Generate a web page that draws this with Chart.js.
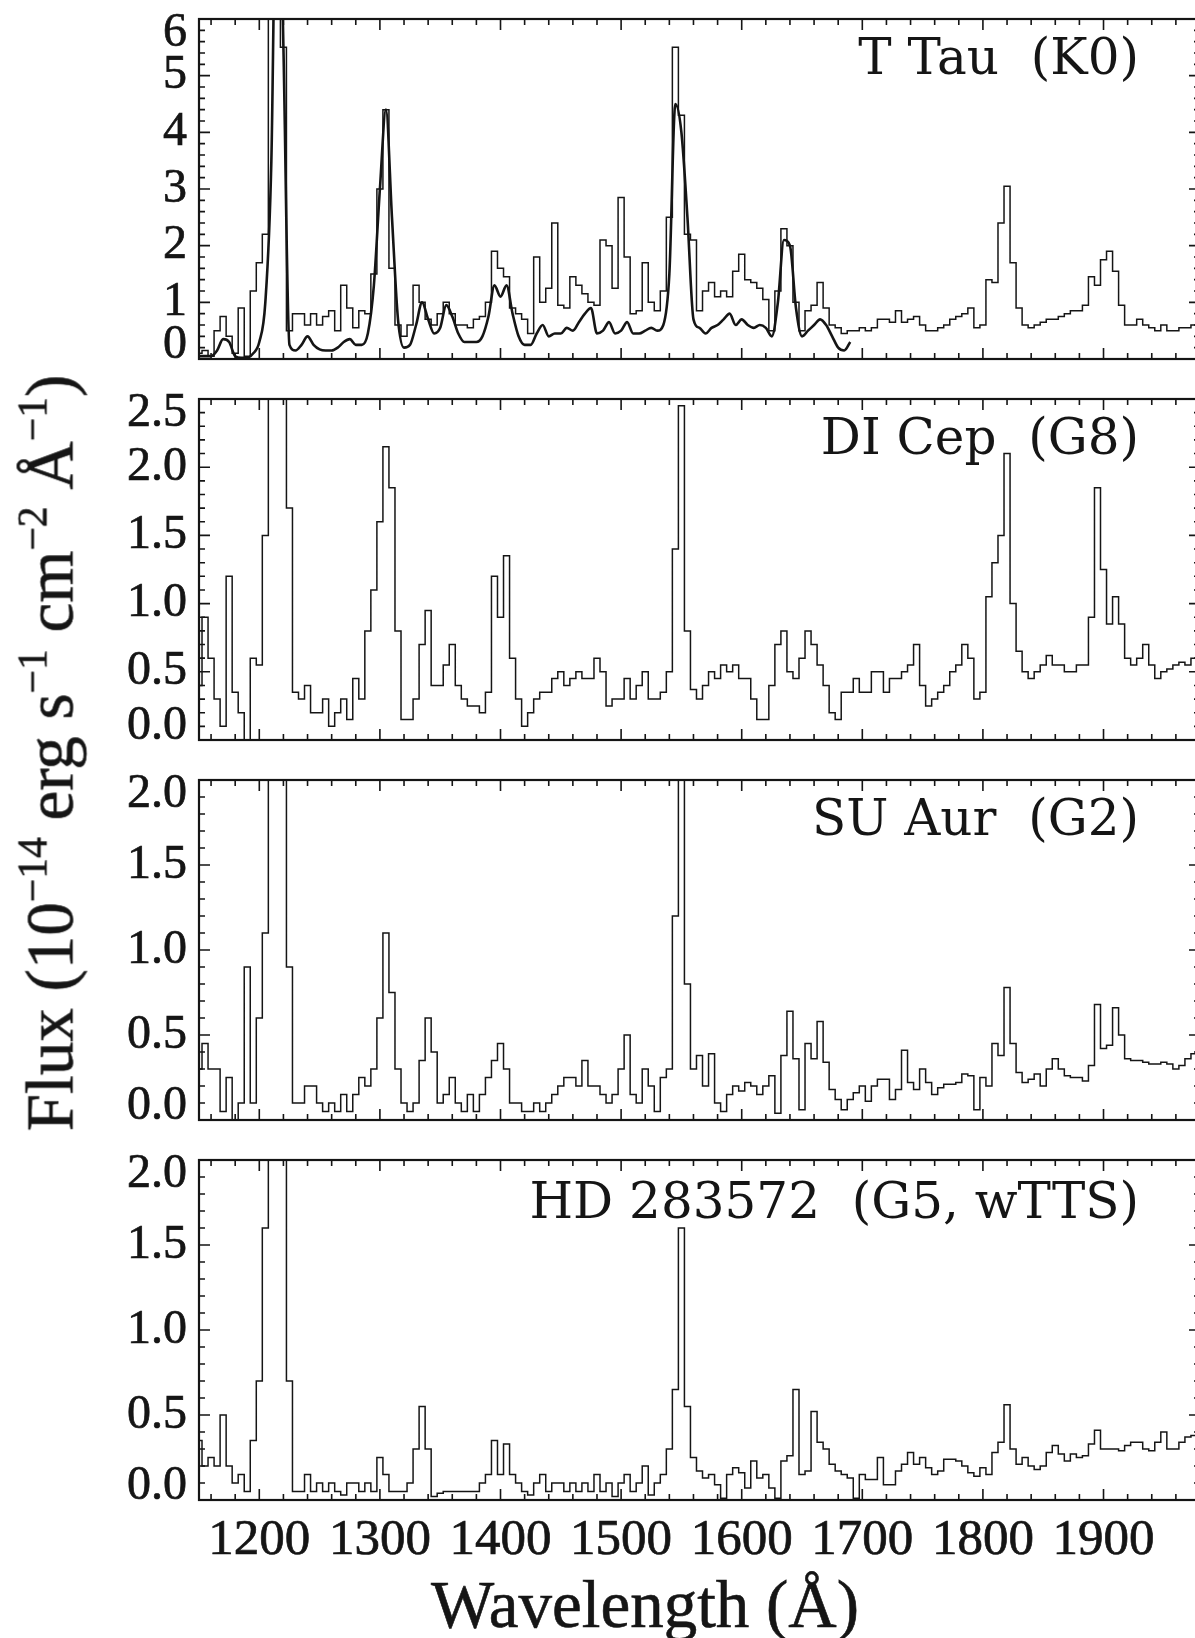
<!DOCTYPE html>
<html>
<head>
<meta charset="utf-8">
<script src="https://cdn.jsdelivr.net/npm/chart.js@4.4.1/dist/chart.umd.min.js"></script>
<style>
  html, body { margin: 0; padding: 0; background: #fff; overflow: hidden; }
  body { width: 1195px; height: 1638px; position: relative; }
  canvas { position: absolute; left: 0; }
  .lbl { position: absolute; font-family: "DejaVu Serif", serif; font-size: 50px; line-height: 1;
         color: #151515; white-space: pre; transform: translateX(-100%); }
  .ttl { position: absolute; font-family: "Liberation Serif", serif; font-size: 67px; line-height: 1;
         color: #151515; white-space: nowrap; -webkit-text-stroke: 0.6px #151515; }
  .ttl sup { font-size: 0.62em; line-height: 0; vertical-align: 0.62em; }
</style>
</head>
<body>
<canvas id="p1"></canvas>
<canvas id="p2"></canvas>
<canvas id="p3"></canvas>
<canvas id="p4"></canvas>

<div class="lbl" style="left:1139px; top:32px;">T Tau  (K0)</div>
<div class="lbl" style="left:1139px; top:412px;">DI Cep  (G8)</div>
<div class="lbl" style="left:1139px; top:793px;">SU Aur  (G2)</div>
<div class="lbl" style="left:1139px; top:1176px;">HD 283572  (G5, wTTS)</div>

<div class="ttl" style="left:645px; top:1571px; transform:translateX(-50%);">Wavelength (Å)</div>
<div class="ttl" style="left:50px; top:753px; transform:translate(-50%,-50%) rotate(-90deg);">Flux (10<sup>−14</sup> erg s<sup>−1</sup> cm<sup>−2</sup> Å<sup>−1</sup>)</div>

<script>
// wavelength grid (Angstrom), 5 A bins
const wave = [
  1150, 1155, 1160, 1165, 1170, 1175, 1180, 1185, 1190, 1195,
  1200, 1205, 1210, 1215, 1220, 1225, 1230, 1235, 1240, 1245,
  1250, 1255, 1260, 1265, 1270, 1275, 1280, 1285, 1290, 1295,
  1300, 1305, 1310, 1315, 1320, 1325, 1330, 1335, 1340, 1345,
  1350, 1355, 1360, 1365, 1370, 1375, 1380, 1385, 1390, 1395,
  1400, 1405, 1410, 1415, 1420, 1425, 1430, 1435, 1440, 1445,
  1450, 1455, 1460, 1465, 1470, 1475, 1480, 1485, 1490, 1495,
  1500, 1505, 1510, 1515, 1520, 1525, 1530, 1535, 1540, 1545,
  1550, 1555, 1560, 1565, 1570, 1575, 1580, 1585, 1590, 1595,
  1600, 1605, 1610, 1615, 1620, 1625, 1630, 1635, 1640, 1645,
  1650, 1655, 1660, 1665, 1670, 1675, 1680, 1685, 1690, 1695,
  1700, 1705, 1710, 1715, 1720, 1725, 1730, 1735, 1740, 1745,
  1750, 1755, 1760, 1765, 1770, 1775, 1780, 1785, 1790, 1795,
  1800, 1805, 1810, 1815, 1820, 1825, 1830, 1835, 1840, 1845,
  1850, 1855, 1860, 1865, 1870, 1875, 1880, 1885, 1890, 1895,
  1900, 1905, 1910, 1915, 1920, 1925, 1930, 1935, 1940, 1945,
  1950, 1955, 1960, 1965, 1970, 1975, 1980
];

const tTauFlux = [
  0.1, 0.15, 0.05, 0.5, 0.75, 0.4, 0.1, 0.9, 0.05, 1.2,
  1.7, 2.2, 7, 8, 5.5, 0.5, 0.8, 0.8, 0.6, 0.8,
  0.6, 0.75, 0.85, 0.5, 1.3, 0.9, 0.55, 0.85, 0.8, 1.5,
  3.0, 4.4, 1.6, 0.6, 0.4, 0.6, 1.3, 1.0, 0.7, 0.6,
  0.8, 1.0, 0.8, 0.6, 0.6, 0.55, 0.7, 0.75, 1.0, 1.9,
  1.6, 1.45, 0.9, 0.8, 0.7, 0.45, 1.8, 1.0, 1.25, 2.4,
  0.95, 0.9, 1.45, 1.3, 1.15, 1.0, 0.95, 2.1, 2.0, 1.25,
  2.85, 1.8, 0.8, 0.85, 1.7, 1.0, 0.85, 1.2, 2.5, 5.5,
  4.3, 2.2, 2.1, 0.85, 1.2, 1.35, 1.1, 1.2, 1.1, 1.55,
  1.85, 1.4, 1.35, 1.25, 1.05, 0.5, 1.2, 2.3, 2.0, 1.0,
  0.5, 0.85, 0.95, 1.35, 0.9, 0.6, 0.55, 0.45, 0.5, 0.5,
  0.55, 0.5, 0.55, 0.7, 0.7, 0.65, 0.85, 0.65, 0.7, 0.75,
  0.6, 0.5, 0.5, 0.55, 0.6, 0.7, 0.75, 0.8, 0.9, 0.55,
  0.6, 1.4, 1.35, 2.4, 3.05, 1.7, 0.9, 0.6, 0.55, 0.6,
  0.65, 0.7, 0.7, 0.75, 0.8, 0.85, 0.85, 0.95, 1.45, 1.3,
  1.75, 1.9, 1.55, 0.95, 0.6, 0.6, 0.7, 0.6, 0.55, 0.5,
  0.6, 0.5, 0.5, 0.55, 0.55, 0.6, 0.6
];

// smooth model curve drawn over T Tau, 1150-1690 A on the same grid
const tTauModel = [
  0.05, 0.05, 0.05, 0.15, 0.35, 0.3, 0.05, 0.02, 0.02, 0.1,
  0.3, 1.0, 3.5, 10, 5.5, 0.25, 0.15, 0.25, 0.4, 0.25,
  0.17, 0.15, 0.15, 0.2, 0.3, 0.35, 0.25, 0.25, 0.45, 1.3,
  3.0, 4.4, 2.5, 0.7, 0.2, 0.25, 0.6, 1.0, 0.7, 0.45,
  0.55, 0.95, 0.75, 0.45, 0.3, 0.3, 0.3, 0.4, 0.75, 1.3,
  1.1, 1.3, 0.8, 0.4, 0.25, 0.25, 0.45, 0.6, 0.4, 0.45,
  0.45, 0.55, 0.5, 0.65, 0.8, 0.9, 0.45, 0.5, 0.65, 0.45,
  0.5, 0.65, 0.45, 0.45, 0.5, 0.55, 0.5, 0.6, 1.5, 4.5,
  4.0, 2.5, 0.7, 0.55, 0.45, 0.55, 0.6, 0.7, 0.8, 0.6,
  0.7, 0.6, 0.55, 0.6, 0.55, 0.4, 1.0, 2.1, 2.0, 0.9,
  0.4, 0.5, 0.6, 0.7, 0.6, 0.4, 0.2, 0.15, 0.3
];

const diCepFlux = [
  0.4, 0.9, 0.6, 0.3, 0.1, 1.2, 0.35, 0.2, 0.0, 0.6,
  0.55, 1.5, 3, 3, 3, 1.7, 0.35, 0.3, 0.4, 0.2,
  0.2, 0.3, 0.1, 0.2, 0.3, 0.15, 0.45, 0.3, 0.8, 1.1,
  1.6, 2.15, 1.85, 0.8, 0.15, 0.15, 0.3, 0.7, 0.95, 0.4,
  0.4, 0.55, 0.7, 0.4, 0.3, 0.25, 0.25, 0.2, 0.35, 1.2,
  0.9, 1.35, 0.6, 0.3, 0.1, 0.2, 0.3, 0.35, 0.35, 0.45,
  0.5, 0.4, 0.45, 0.5, 0.45, 0.45, 0.6, 0.5, 0.25, 0.3,
  0.3, 0.45, 0.3, 0.4, 0.5, 0.3, 0.3, 0.35, 0.5, 1.4,
  2.45, 0.8, 0.37, 0.3, 0.4, 0.5, 0.45, 0.55, 0.5, 0.55,
  0.45, 0.45, 0.3, 0.15, 0.15, 0.4, 0.7, 0.8, 0.5, 0.45,
  0.6, 0.8, 0.7, 0.55, 0.4, 0.2, 0.15, 0.35, 0.35, 0.45,
  0.35, 0.35, 0.5, 0.5, 0.35, 0.45, 0.45, 0.5, 0.55, 0.7,
  0.4, 0.25, 0.3, 0.35, 0.4, 0.5, 0.55, 0.7, 0.6, 0.3,
  0.35, 1.05, 1.3, 1.5, 2.1, 1.0, 0.65, 0.5, 0.45, 0.5,
  0.55, 0.62, 0.55, 0.55, 0.5, 0.5, 0.55, 0.55, 0.9, 1.85,
  1.25, 0.85, 1.05, 0.85, 0.6, 0.55, 0.6, 0.7, 0.55, 0.45,
  0.5, 0.52, 0.55, 0.57, 0.55, 0.6, 0.6
];

const suAurFlux = [
  0.3, 0.45, 0.3, 0.3, 0.05, 0.25, 0.0, 0.1, 0.9, 0.1,
  0.6, 1.1, 2.2, 2.2, 2.2, 0.9, 0.1, 0.1, 0.2, 0.2,
  0.1, 0.05, 0.1, 0.05, 0.15, 0.05, 0.15, 0.25, 0.2, 0.3,
  0.6, 1.1, 0.75, 0.3, 0.1, 0.05, 0.1, 0.35, 0.6, 0.4,
  0.1, 0.15, 0.25, 0.1, 0.05, 0.15, 0.05, 0.15, 0.25, 0.35,
  0.45, 0.3, 0.1, 0.1, 0.05, 0.05, 0.1, 0.05, 0.1, 0.15,
  0.2, 0.25, 0.25, 0.2, 0.35, 0.2, 0.2, 0.15, 0.1, 0.15,
  0.3, 0.5, 0.15, 0.1, 0.3, 0.2, 0.05, 0.25, 0.3, 1.2,
  2.2, 0.8, 0.3, 0.38, 0.2, 0.39, 0.1, 0.05, 0.15, 0.2,
  0.17, 0.22, 0.2, 0.15, 0.2, 0.26, 0.04, 0.38, 0.64, 0.36,
  0.06, 0.45, 0.36, 0.58, 0.34, 0.18, 0.12, 0.06, 0.12, 0.16,
  0.2, 0.11, 0.2, 0.24, 0.24, 0.12, 0.18, 0.41, 0.22, 0.18,
  0.3, 0.22, 0.15, 0.19, 0.21, 0.21, 0.22, 0.27, 0.26, 0.06,
  0.25, 0.2, 0.45, 0.38, 0.78, 0.45, 0.28, 0.22, 0.24, 0.27,
  0.2, 0.3, 0.36, 0.3, 0.26, 0.25, 0.25, 0.23, 0.32, 0.68,
  0.42, 0.44, 0.66, 0.5, 0.36, 0.35, 0.35, 0.34, 0.33, 0.33,
  0.34, 0.33, 0.3, 0.32, 0.36, 0.39, 0.4
];

const hdFlux = [
  0.35, 0.2, 0.25, 0.2, 0.5, 0.2, 0.1, 0.15, 0.05, 0.35,
  0.7, 1.6, 2.2, 2.2, 2.2, 0.7, 0.05, 0.05, 0.15, 0.05,
  0.1, 0.05, 0.1, 0.05, 0.03, 0.1, 0.1, 0.05, 0.1, 0.05,
  0.25, 0.15, 0.05, 0.05, 0.05, 0.1, 0.3, 0.55, 0.3, 0.02,
  0.04, 0.05, 0.05, 0.05, 0.05, 0.05, 0.05, 0.1, 0.15, 0.35,
  0.15, 0.33, 0.15, 0.1, 0.05, 0.03, 0.1, 0.15, 0.05, 0.1,
  0.1, 0.05, 0.1, 0.05, 0.1, 0.05, 0.15, 0.05, 0.1, 0.02,
  0.1, 0.15, 0.05, 0.1, 0.2, 0.03, 0.1, 0.15, 0.3, 0.65,
  1.6, 0.55, 0.25, 0.17, 0.13, 0.15, 0.09, 0.01, 0.15, 0.19,
  0.16, 0.07, 0.23, 0.13, 0.15, 0.07, 0.01, 0.23, 0.26, 0.65,
  0.15, 0.17, 0.52, 0.34, 0.3, 0.21, 0.17, 0.15, 0.13, 0.01,
  0.15, 0.12, 0.12, 0.25, 0.09, 0.09, 0.17, 0.21, 0.28, 0.21,
  0.25, 0.19, 0.15, 0.17, 0.24, 0.24, 0.23, 0.2, 0.16, 0.14,
  0.19, 0.15, 0.28, 0.34, 0.56, 0.3, 0.21, 0.25, 0.2, 0.18,
  0.2, 0.28, 0.32, 0.27, 0.23, 0.27, 0.25, 0.26, 0.33, 0.41,
  0.3, 0.3, 0.3, 0.29, 0.32, 0.34, 0.34, 0.3, 0.29, 0.34,
  0.4, 0.3, 0.3, 0.34, 0.37, 0.38, 0.38
];

// axis ticks
const xMajorTicks = [1200, 1300, 1400, 1500, 1600, 1700, 1800, 1900];
const xTickLabels = ['1200', '1300', '1400', '1500', '1600', '1700', '1800', '1900'];
const xMinorTicks = [1160, 1180, 1220, 1240, 1260, 1280, 1320, 1340, 1360, 1380,
  1420, 1440, 1460, 1480, 1520, 1540, 1560, 1580, 1620, 1640, 1660, 1680,
  1720, 1740, 1760, 1780, 1820, 1840, 1860, 1880, 1920, 1940, 1960];

const yMajor1 = [0, 1, 2, 3, 4, 5, 6];
const yLabels1 = ['0', '1', '2', '3', '4', '5', '6'];
const yMinor1 = [0.2, 0.4, 0.6, 0.8, 1.2, 1.4, 1.6, 1.8, 2.2, 2.4, 2.6, 2.8,
  3.2, 3.4, 3.6, 3.8, 4.2, 4.4, 4.6, 4.8, 5.2, 5.4, 5.6, 5.8];

const yMajor2 = [0, 0.5, 1, 1.5, 2, 2.5];
const yLabels2 = ['0.0', '0.5', '1.0', '1.5', '2.0', '2.5'];
const yMinor2 = [0.1, 0.2, 0.3, 0.4, 0.6, 0.7, 0.8, 0.9, 1.1, 1.2, 1.3, 1.4,
  1.6, 1.7, 1.8, 1.9, 2.1, 2.2, 2.3, 2.4];

const yMajor34 = [0, 0.5, 1, 1.5, 2];
const yLabels34 = ['0.0', '0.5', '1.0', '1.5', '2.0'];
const yMinor34 = [0.1, 0.2, 0.3, 0.4, 0.6, 0.7, 0.8, 0.9, 1.1, 1.2, 1.3, 1.4,
  1.6, 1.7, 1.8, 1.9];

const INK = '#151515';

// frame, inward ticks and tick labels, all placed through the chart scales
const frameTicks = {
  id: 'frameTicks',
  afterDatasetsDraw(chart, args, opts) {
    const { ctx, chartArea: a, scales: { x, y } } = chart;
    ctx.save();
    ctx.strokeStyle = INK;
    ctx.lineWidth = 2.2;
    ctx.strokeRect(a.left, a.top, a.right - a.left, a.bottom - a.top);

    ctx.lineWidth = 1.6;
    ctx.beginPath();
    const xt = (v, len) => {
      const px = x.getPixelForValue(v);
      ctx.moveTo(px, a.bottom); ctx.lineTo(px, a.bottom - len);
      ctx.moveTo(px, a.top); ctx.lineTo(px, a.top + len);
    };
    const yt = (v, len) => {
      const py = y.getPixelForValue(v);
      ctx.moveTo(a.left, py); ctx.lineTo(a.left + len, py);
      ctx.moveTo(a.right, py); ctx.lineTo(a.right - len, py);
    };
    xMajorTicks.forEach(v => xt(v, 11));
    xMinorTicks.forEach(v => xt(v, 6));
    opts.yMajor.forEach(v => yt(v, 11));
    opts.yMinor.forEach(v => yt(v, 6));
    ctx.stroke();

    ctx.fillStyle = INK;
    ctx.lineWidth = 0.7;
    ctx.font = '48px "Liberation Serif", serif';
    ctx.textAlign = 'right';
    ctx.textBaseline = 'middle';
    opts.yMajor.forEach((v, i) => {
      let py = y.getPixelForValue(v);
      py = Math.min(Math.max(py, a.top + 14), a.bottom - 14);
      ctx.fillText(opts.yLabels[i], a.left - 12, py);
      ctx.strokeText(opts.yLabels[i], a.left - 12, py);
    });

    if (opts.xLabels) {
      ctx.font = '51px "Liberation Serif", serif';
      ctx.textAlign = 'center';
      xMajorTicks.forEach((v, i) => {
        const px = x.getPixelForValue(v);
        ctx.fillText(xTickLabels[i], px, a.bottom + 41);
        ctx.strokeText(xTickLabels[i], px, a.bottom + 41);
      });
    }
    ctx.restore();
  }
};

function toPoints(flux) {
  return flux.map((f, i) => ({ x: wave[i], y: f }));
}

function thin(flux) {
  return {
    data: toPoints(flux),
    borderColor: INK,
    borderWidth: 1.5,
    stepped: 'middle',
    pointRadius: 0,
    fill: false
  };
}

function makePanel(id, frameTop, frameBottom, yMax, datasets, tick, padBottom) {
  const padTop = 20;
  const canvas = document.getElementById(id);
  canvas.width = 1202;
  canvas.height = (frameBottom - frameTop) + padTop + padBottom;
  canvas.style.top = (frameTop - padTop) + 'px';

  new Chart(canvas.getContext('2d'), {
    type: 'line',
    data: { datasets: datasets },
    options: {
      responsive: false,
      animation: false,
      events: [],
      layout: { padding: { left: 199, right: 2, top: padTop, bottom: padBottom } },
      plugins: {
        legend: { display: false },
        tooltip: { enabled: false },
        frameTicks: tick
      },
      scales: {
        x: { type: 'linear', min: 1150, max: 1980, display: false },
        y: { type: 'linear', min: 0, max: yMax, display: false }
      }
    },
    plugins: [frameTicks]
  });
}

makePanel('p1', 19, 359, 6, [
  thin(tTauFlux),
  {
    data: toPoints(tTauModel),
    borderColor: INK,
    borderWidth: 2.6,
    cubicInterpolationMode: 'monotone',
    pointRadius: 0,
    fill: false
  }
], { yMajor: yMajor1, yMinor: yMinor1, yLabels: yLabels1 }, 20);

makePanel('p2', 399, 740, 2.5, [thin(diCepFlux)],
  { yMajor: yMajor2, yMinor: yMinor2, yLabels: yLabels2 }, 20);

makePanel('p3', 780, 1120, 2, [thin(suAurFlux)],
  { yMajor: yMajor34, yMinor: yMinor34, yLabels: yLabels34 }, 20);

makePanel('p4', 1160, 1500, 2, [thin(hdFlux)],
  { yMajor: yMajor34, yMinor: yMinor34, yLabels: yLabels34, xLabels: true }, 80);
</script>
</body>
</html>
